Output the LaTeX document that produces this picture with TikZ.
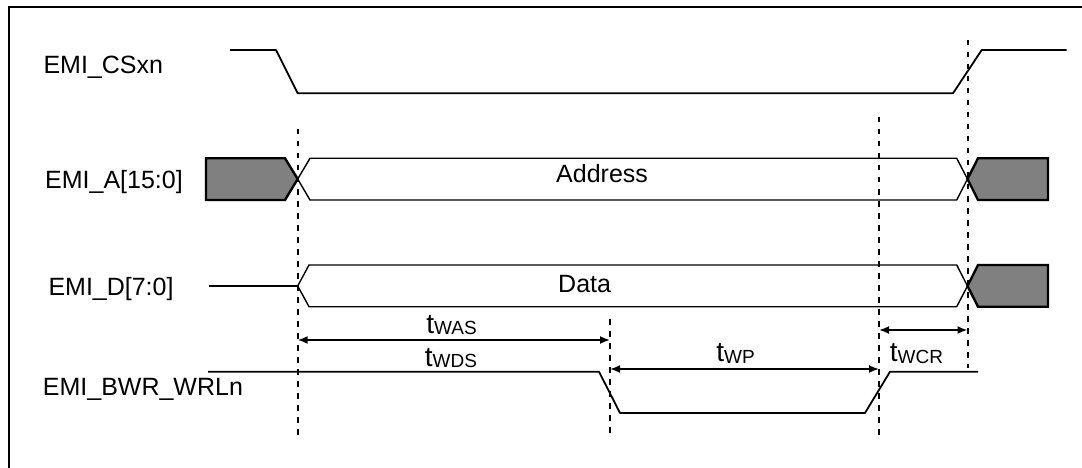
\documentclass[tikz,border=0pt]{standalone}
\usepackage{fontspec}
\setmainfont{Liberation Sans}
\usetikzlibrary{arrows.meta}
\definecolor{busgray}{RGB}{128,128,128}
\newcommand\mytlab[1]{t\raisebox{-1.5pt}{\fontsize{19}{21}\selectfont #1}}
\begin{document}
\begin{tikzpicture}[x=1pt,y=-1pt,
  lbl/.style={anchor=base west,inner sep=0pt,font=\fontsize{25}{30}\selectfont},
  tlbl/.style={anchor=base,inner sep=0pt,font=\fontsize{28}{30}\selectfont},
  sig/.style={line width=1.8pt,line join=round},
  bus/.style={line width=1.4pt,line join=miter,fill=white},
  xbox/.style={line width=2.4pt,fill=busgray,line join=miter},
  guide/.style={line width=2pt,dash pattern=on 5.5pt off 6.5pt},
  dim/.style={line width=1.8pt,{Latex[length=10pt,width=8pt]}-{Latex[length=10pt,width=8pt]}}]
\useasboundingbox (0,0) rectangle (1082,468);
% frame (cropped at right and bottom)
\draw[line width=2pt] (8.5,470) -- (8.5,7.5) -- (1084,7.5);

% signal names
\node[lbl] (ncs)  at (43.3,74)  {EMI\_CSxn};
\node[lbl] (na)   at (45,188.3) {EMI\_A[15:0]};
\node[lbl] (nd)   at (48.3,295.7) {EMI\_D[7:0]};
\node[lbl] (nbwr) at (42.7,395.7) {EMI\_BWR\_WRLn};

% EMI_CSxn
\draw[sig] (230,50) -- (276,50) -- (297.7,93.3) -- (953,93.3) -- (981.7,50) -- (1066.7,50);

% EMI_A bus
\draw[bus] (297.7,179) -- (310,158.3) -- (956.7,158.3) -- (967.5,179) -- (956.7,200) -- (310,200) -- cycle;
\draw[xbox] (206,158.3) -- (285,158.3) -- (297.7,179) -- (285,200) -- (206,200) -- cycle;
\draw[xbox] (967.5,179) -- (978,158.3) -- (1048,158.3) -- (1048,200) -- (978,200) -- cycle;
\node[lbl] (addr) at (556,182.3) {Address};

% EMI_D bus
\draw[sig] (209,286) -- (297.7,286);
\draw[bus] (297.7,286) -- (309,265) -- (956.7,265) -- (967.5,286) -- (956.7,306.7) -- (309,306.7) -- cycle;
\draw[xbox] (967.5,286) -- (978,265) -- (1048,265) -- (1048,306.7) -- (978,306.7) -- cycle;
\node[lbl] (data) at (558,292.3) {Data};

% EMI_BWR_WRLn
\draw[sig] (208,371.7) -- (599,371.7) -- (620,413) -- (865,413) -- (890,371.7) -- (978,371.7);

% timing guides
\coordinate (g1t) at (297.7,129);  \coordinate (g1b) at (297.7,435);
\coordinate (g2t) at (610,319);    \coordinate (g2b) at (610,435);
\coordinate (g3t) at (879,117);    \coordinate (g3b) at (879,435);
\coordinate (g4t) at (967.5,40);   \coordinate (g4b) at (967.5,368);
\draw[guide] (g1t) -- (g1b);
\draw[guide] (g2t) -- (g2b);
\draw[guide] (g3t) -- (g3b);
\draw[guide] (g4t) -- (g4b);

% dimension arrows
\coordinate (a1l) at (297.7,340); \coordinate (a1r) at (610,340);
\coordinate (a2l) at (610,369);   \coordinate (a2r) at (879,369);
\coordinate (a3l) at (879,330);   \coordinate (a3r) at (967.5,330);
\draw[dim] (a1l) -- (a1r);
\draw[dim] (a2l) -- (a2r);
\draw[dim] (a3l) -- (a3r);
\node[tlbl] (twas) at (451.5,333)   {\mytlab{WAS}};
\node[tlbl] (twds) at (451,366)     {\mytlab{WDS}};
\node[tlbl] (twp)  at (735.5,361.7) {\mytlab{WP}};
\node[tlbl] (twcr) at (916.5,361.7) {\mytlab{WCR}};
\end{tikzpicture}
\end{document}
